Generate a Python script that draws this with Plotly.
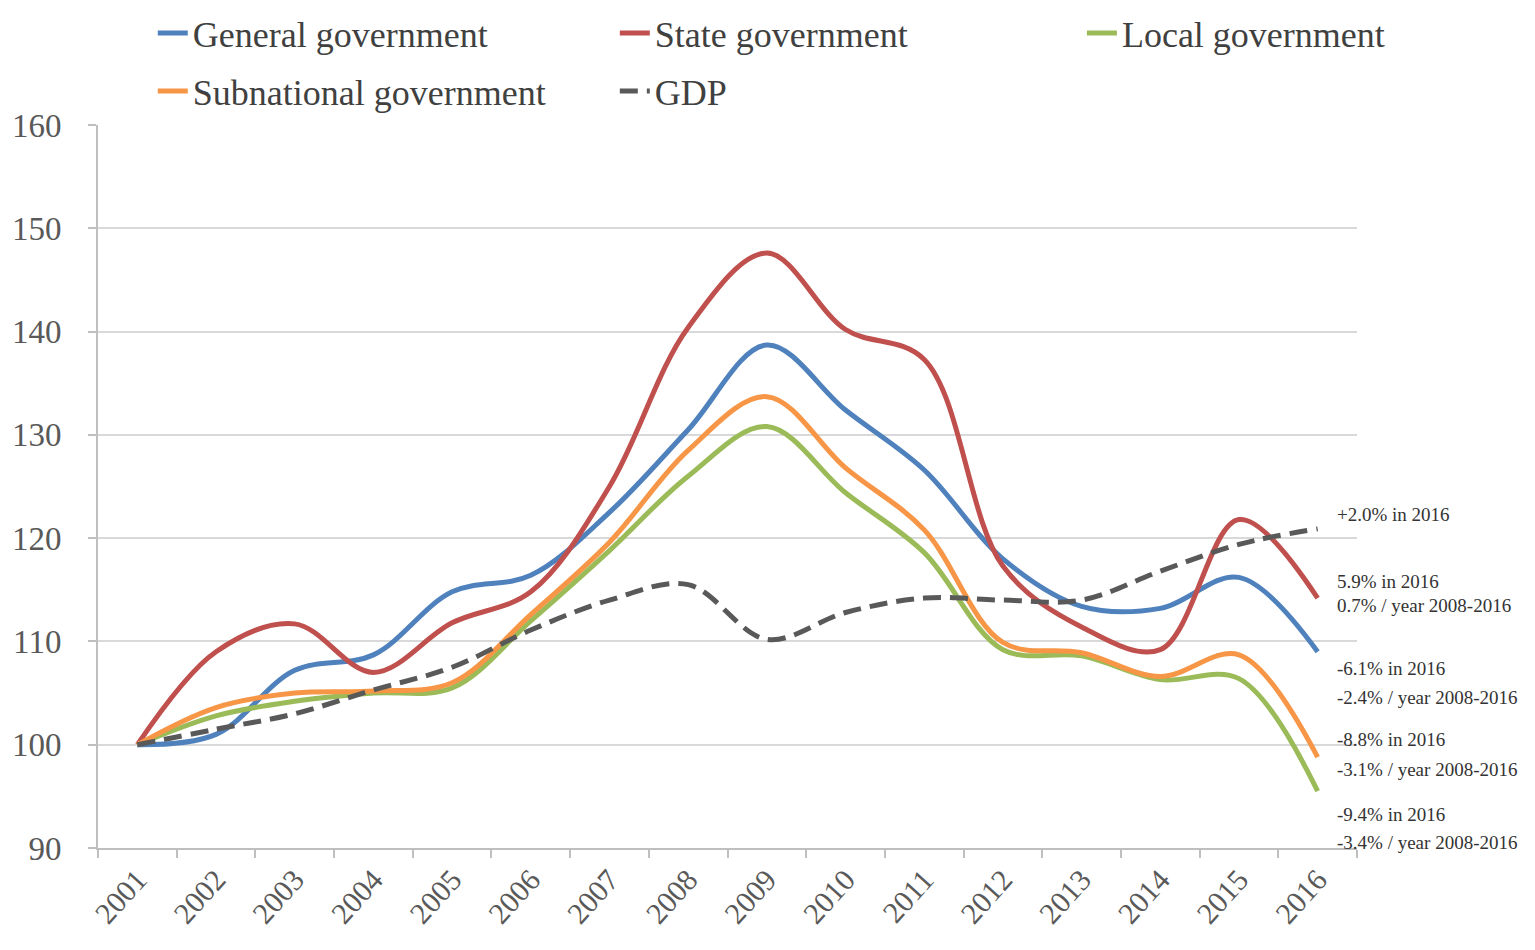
import plotly.graph_objects as go

years = [str(y) for y in range(2001, 2017)]

general = [100, 101, 107.2, 108.7, 114.8, 116.4, 122.5, 130.5, 138.7, 132.4, 126.6, 118.0, 113.4, 113.2, 116.2, 109.0]
state = [100, 109.0, 111.7, 107.0, 111.8, 114.8, 125.0, 140.4, 147.6, 140.2, 137.3, 117.3, 111.4, 109.2, 121.8, 114.2]
local = [100, 102.8, 104.2, 105.0, 105.5, 112.0, 118.8, 126.0, 130.8, 124.4, 118.6, 109.2, 108.6, 106.3, 106.4, 95.5]
subnational = [100, 103.6, 105.0, 105.2, 106.0, 112.6, 119.6, 128.5, 133.7, 126.8, 120.8, 109.9, 108.9, 106.6, 108.7, 98.8]
gdp = [100, 101.5, 103.0, 105.3, 107.5, 111.1, 114.0, 115.5, 110.2, 112.8, 114.2, 114.0, 114.0, 116.8, 119.4, 120.9]

series_names = ["General government", "State government", "Local government",
                "Subnational government", "GDP"]
series_values = [general, state, local, subnational, gdp]
series_colors = ["#4F81BD", "#C0504D", "#9BBB59", "#F79646", "#595959"]
series_dash = ["solid", "solid", "solid", "solid", "18px,9px"]

note_texts = ["+2.0% in 2016",
              "5.9% in 2016", "0.7% / year 2008-2016",
              "-6.1% in 2016", "-2.4% / year 2008-2016",
              "-8.8% in 2016", "-3.1% / year 2008-2016",
              "-9.4% in 2016", "-3.4% / year 2008-2016"]
note_y = [122.3, 115.8, 113.5, 107.4, 104.6, 100.5, 97.6, 93.2, 90.5]

legend_ids = ["legend", "legend2", "legend3", "legend4", "legend5"]
legend_pos = [(0.0435, 1.127), (0.4105, 1.127), (0.7815, 1.127), (0.0435, 1.047), (0.4105, 1.047)]

serif = "Liberation Serif, DejaVu Serif, serif"

fig = go.Figure()
for name, vals, col, dash, lid in zip(series_names, series_values, series_colors, series_dash, legend_ids):
    fig.add_trace(go.Scatter(
        x=years, y=vals, name=name, mode="lines",
        line=dict(color=col, width=5, dash=dash, shape="spline", smoothing=1.0),
        legend=lid, hoverinfo="skip"))

legend_font = dict(family=serif, size=36, color="#404040")
layout_legends = {}
for lid, (lx, ly) in zip(legend_ids, legend_pos):
    layout_legends[lid] = dict(x=lx, y=ly, xanchor="left", yanchor="middle",
                               orientation="v", font=legend_font,
                               bgcolor="rgba(0,0,0,0)", itemwidth=30)

annotations = []
for t, yv in zip(note_texts, note_y):
    annotations.append(dict(x=15.22, y=yv, xref="x", yref="y", text=t, showarrow=False,
                            xanchor="left", yanchor="middle",
                            font=dict(family=serif, size=19, color="#333333")))

fig.update_layout(
    width=1535, height=950,
    margin=dict(l=90, r=186, t=117, b=110, autoexpand=False),
    paper_bgcolor="white", plot_bgcolor="white",
    showlegend=True,
    annotations=annotations,
    **layout_legends,
)
fig.update_xaxes(
    type="category", range=[-0.5, 15.5],
    tickson="boundaries", ticks="outside", ticklen=8, tickcolor="#bfbfbf", tickwidth=2,
    showline=True, linecolor="#bfbfbf", linewidth=2,
    showgrid=False, tickangle=-48,
    tickfont=dict(family=serif, size=30, color="#595959"),
)
fig.update_yaxes(
    range=[90, 160], dtick=10, tick0=90,
    ticks="outside", ticklen=8, tickcolor="#bfbfbf", tickwidth=2,
    showline=True, linecolor="#bfbfbf", linewidth=2,
    showgrid=True, gridcolor="#d9d9d9", gridwidth=2,
    zeroline=False,
    tickfont=dict(family=serif, size=33, color="#595959"),
    ticklabelstandoff=20,
)

fig.write_html("out.html")
